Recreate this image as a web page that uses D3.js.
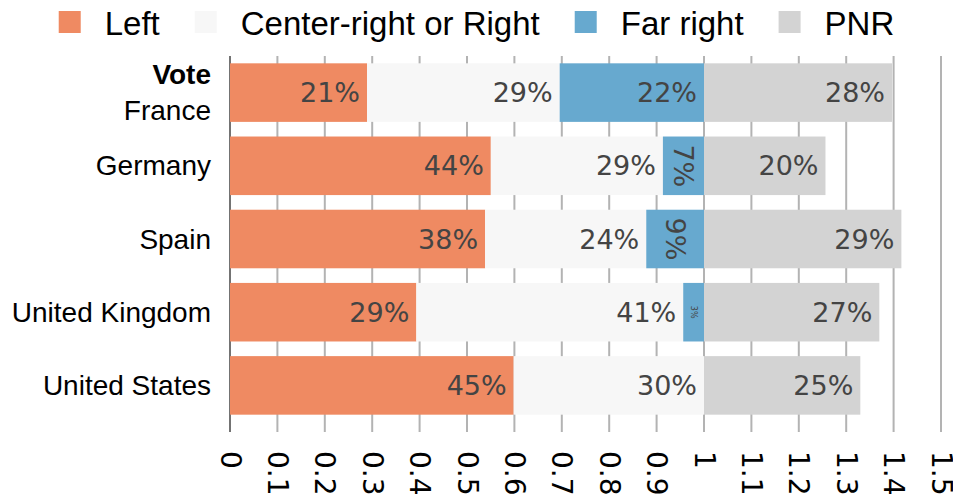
<!DOCTYPE html>
<html>
<head>
<meta charset="utf-8">
<title>Vote by country</title>
<script src="https://d3js.org/d3.v7.min.js"></script>
<style>
  body { margin: 0; background: #fff; }
  svg { display: block; }
</style>
</head>
<body>
<div id="container"></div>
<script>

// shares of respondents (percent)
const countries   = ["France", "Germany", "Spain", "United Kingdom", "United States"];
const left        = [20.7, 43.8, 38.0, 28.7, 45.0];
const centerRight = [29.1, 28.9, 24.0, 41.1, 30.2];
const farRight    = [21.8,  6.9,  8.6,  3.2,  0.0];
const pnr         = [28.4, 20.4, 29.4, 27.0, 24.8];

const seriesNames  = ["Left", "Center-right or Right", "Far right", "PNR"];
const seriesColors = ["#ef8a62", "#f7f7f7", "#67a9cf", "#d3d3d3"];
const xTicks = [0, 0.1, 0.2, 0.3, 0.4, 0.5, 0.6, 0.7, 0.8, 0.9, 1, 1.1, 1.2, 1.3, 1.4, 1.5];

const width = 953,
      height = 502,
      margin = { top: 56, bottom: 80, left: 230, right: 12 };

const svg = d3.select("#container")
  .append("svg")
  .attr("width", width)
  .attr("height", height);

const x = d3.scaleLinear()
  .domain([0, 1.5])
  .range([margin.left, width - margin.right]);

const y = d3.scaleBand()
  .domain(countries)
  .range([margin.top, 422])
  .paddingInner(0.2)
  .paddingOuter(0.1);

// rows: non-PNR parts are normalised to sum to 1, PNR sits to the right of 1
const rows = countries.map((c, i) => {
  const vals = [left[i], centerRight[i], farRight[i], pnr[i]];
  const base = 100 - pnr[i];
  let x0 = 0;
  return vals.map((v, k) => {
    const w = v / base;
    const seg = { country: c, key: k, value: v, x0: x0, x1: x0 + w };
    x0 += w;
    return seg;
  });
});

// grid
svg.append("g")
  .selectAll("line")
  .data(xTicks)
  .join("line")
  .attr("x1", d => x(d))
  .attr("x2", d => x(d))
  .attr("y1", margin.top)
  .attr("y2", 432)
  .attr("stroke", d => d === 0 ? "#444" : "#b3b3b3")
  .attr("stroke-width", d => d === 0 ? 1.5 : 2);

// bars
const segs = rows.flat().filter(d => d.value > 0);

svg.append("g")
  .selectAll("rect")
  .data(segs)
  .join("rect")
  .attr("x", d => x(d.x0))
  .attr("width", d => x(d.x1) - x(d.x0))
  .attr("y", d => y(d.country))
  .attr("height", y.bandwidth())
  .attr("fill", d => seriesColors[d.key]);

// bar labels
const labelFont = 27;
const labels = svg.append("g")
  .style("font-family", "'DejaVu Sans', sans-serif")
  .style("fill", "#444");

segs.forEach(d => {
  const w = x(d.x1) - x(d.x0);
  const txt = Math.round(d.value) + "%";
  const cy = y(d.country) + y.bandwidth() / 2;
  if (w > 70) {
    labels.append("text")
      .attr("x", x(d.x1) - 7)
      .attr("y", cy)
      .attr("text-anchor", "end")
      .attr("dominant-baseline", "central")
      .style("font-size", labelFont + "px")
      .text(txt);
  } else {
    const cx = (x(d.x0) + x(d.x1)) / 2;
    labels.append("text")
      .attr("transform", `translate(${cx}, ${cy}) rotate(90)`)
      .attr("text-anchor", "middle")
      .attr("dominant-baseline", "central")
      .style("font-size", (w > 30 ? labelFont : 8) + "px")
      .text(txt);
  }
});

// y labels
const yLab = svg.append("g")
  .style("font-family", "'Liberation Sans', Arial, sans-serif")
  .style("font-size", "28px")
  .style("fill", "#000")
  .attr("text-anchor", "end");

countries.forEach((c, i) => {
  const cy = y(c) + y.bandwidth() / 2;
  if (i === 0) {
    yLab.append("text")
      .attr("x", 211)
      .attr("y", cy - 18)
      .attr("dominant-baseline", "central")
      .style("font-weight", "bold")
      .text("Vote");
    yLab.append("text")
      .attr("x", 211)
      .attr("y", cy + 18)
      .attr("dominant-baseline", "central")
      .text(c);
  } else {
    yLab.append("text")
      .attr("x", 211)
      .attr("y", cy)
      .attr("dominant-baseline", "central")
      .text(c);
  }
});

// x tick labels, rotated
svg.append("g")
  .selectAll("text")
  .data(xTicks)
  .join("text")
  .attr("transform", d => `translate(${x(d)}, 451) rotate(90)`)
  .attr("text-anchor", "start")
  .attr("dominant-baseline", "central")
  .style("font-family", "'DejaVu Sans', sans-serif")
  .style("font-size", "28px")
  .style("fill", "#000")
  .text(d => d3.format("~g")(d));

// legend
const legend = svg.append("g")
  .style("font-family", "'Liberation Sans', Arial, sans-serif")
  .style("font-size", "33px");

let lx = 0;
seriesNames.forEach((name, i) => {
  const g = legend.append("g").attr("transform", `translate(${lx}, 0)`);
  g.append("rect")
    .attr("x", 0).attr("y", 11)
    .attr("width", 22).attr("height", 22)
    .attr("fill", seriesColors[i]);
  const t = g.append("text")
    .attr("x", 46).attr("y", 35)
    .text(name);
  lx += 46 + t.node().getComputedTextLength() + 35;
});
const legendW = lx - 35;
legend.attr("transform", `translate(${(width - legendW) / 2}, 0)`);

</script>
</body>
</html>
